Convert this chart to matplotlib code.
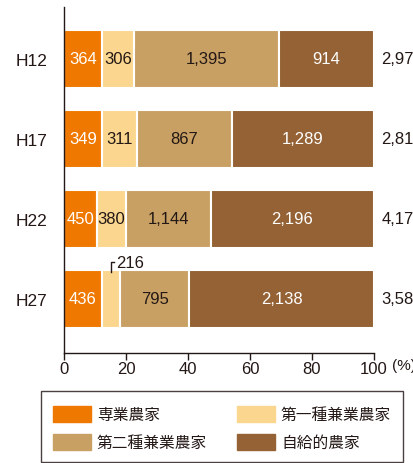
import matplotlib.pyplot as plt
from matplotlib.patches import Rectangle
import numpy as np

plt.rcParams['font.family'] = ['Liberation Sans', 'Noto Sans CJK JP', 'DejaVu Sans']

# データ（農家数）
years = ['H12', 'H17', 'H22', 'H27']
senngyou = [364, 349, 450, 436]        # 専業農家
dai1 = [306, 311, 380, 216]            # 第一種兼業農家
dai2 = [1395, 867, 1144, 795]          # 第二種兼業農家
jikyu = [914, 1289, 2196, 2138]        # 自給的農家
totals = ['2,979', '2,816', '4,170', '3,585']

names = ['専業農家', '第一種兼業農家', '第二種兼業農家', '自給的農家']
colors = ['#EF7800', '#FAD68E', '#C8A064', '#946235']
txt_colors = ['white', '#231815', '#231815', 'white']
dark = '#231815'

series = np.array([senngyou, dai1, dai2, jikyu], dtype=float)
pct = series / series.sum(axis=0) * 100

fig = plt.figure(figsize=(4.14, 4.64), dpi=100)
ax = fig.add_axes([64/414, 1-354/464, 310/414, 346/464])

y = np.arange(len(years))
left = np.zeros(len(years))
for i in range(4):
    ax.barh(y, pct[i], left=left, height=0.725, color=colors[i],
            edgecolor='white', linewidth=1.5)
    for j in range(len(years)):
        v = int(series[i, j])
        if years[j] == 'H27' and i == 1:
            continue
        ax.text(left[j] + pct[i, j]/2, y[j], f'{v:,}', ha='center', va='center',
                fontsize=12, color=txt_colors[i])
    left += pct[i]

# H27 の第一種兼業農家は外側に表示
j = 3
cx = pct[0, j] + pct[1, j]/2
ax.plot([cx, cx, cx + 1.0], [j - 0.34, j - 0.465, j - 0.465], color=dark, lw=1,
        clip_on=False)
ax.text(cx + 1.5, j - 0.46, f'{int(series[1, j]):,}', ha='left', va='center',
        fontsize=12, color=dark)

# 合計
for j in range(len(years)):
    ax.text(102.3, y[j], totals[j], ha='left', va='center', fontsize=12,
            color=dark, clip_on=False)

ax.set_xlim(0, 100)
ax.set_ylim(3.675, -0.65)
ax.set_yticks(y)
ax.set_yticklabels(years, fontsize=12.5, color=dark)
ax.tick_params(axis='y', length=0, pad=12)
ax.set_xticks([0, 20, 40, 60, 80, 100])
ax.tick_params(axis='x', length=5, width=1, color=dark, labelsize=12,
               labelcolor=dark, pad=1)
ax.text(105.8, -0.035, '(%)', transform=ax.get_xaxis_transform(), fontsize=11,
        color=dark, ha='left', va='center', clip_on=False)
for s in ['top', 'right']:
    ax.spines[s].set_visible(False)
for s in ['left', 'bottom']:
    ax.spines[s].set_color(dark)
    ax.spines[s].set_linewidth(1)

# 凡例
fig.patches.append(Rectangle((41/414, 1-463/464), 362/414, 71/464,
                             transform=fig.transFigure, fill=False,
                             edgecolor='#4a4040', linewidth=1))
pos = [(53, 407), (237, 407), (53, 435), (237, 435)]
for (px, py), c, n in zip(pos, colors, names):
    fig.patches.append(Rectangle((px/414, 1-(py+16)/464), 38/414, 16/464,
                                 transform=fig.transFigure, color=c))
    fig.text((px+44)/414, 1-(py+8)/464, n, ha='left', va='center', fontsize=11.3,
             color=dark, family=['Noto Sans CJK JP', 'DejaVu Sans'])

fig.savefig('out.png', dpi=100)
